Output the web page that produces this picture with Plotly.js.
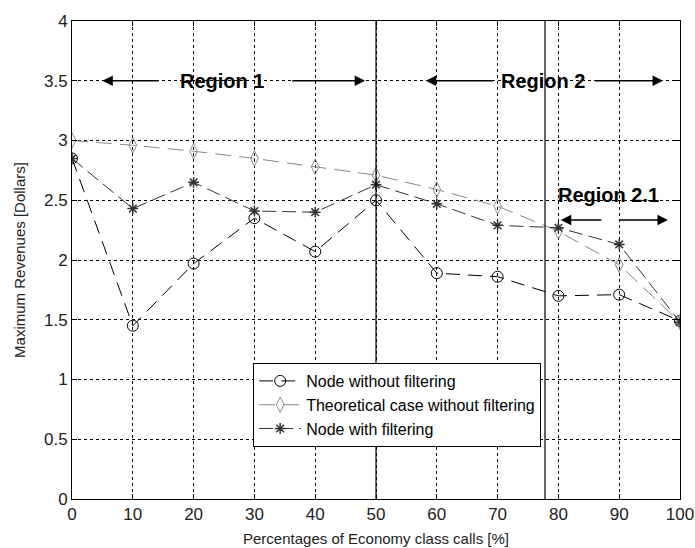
<!DOCTYPE html>
<html>
<head>
<meta charset="utf-8">
<script src="https://cdn.plot.ly/plotly-3.0.1.min.js"></script>
<style>html,body{margin:0;padding:0;background:#fff;}#chart{width:695px;height:548px;}</style>
</head>
<body>
<div id="chart"></div>
<script>
const xPercent = [0, 10, 20, 30, 40, 50, 60, 70, 80, 90, 100];
const nodeWithoutFiltering = [2.85, 1.45, 1.97, 2.35, 2.07, 2.50, 1.89, 1.86, 1.70, 1.71, 1.49];
const theoreticalWithoutFiltering = [3.00, 2.96, 2.91, 2.85, 2.78, 2.71, 2.59, 2.45, 2.24, 1.96, 1.48];
const nodeWithFiltering = [2.85, 2.43, 2.65, 2.41, 2.40, 2.63, 2.47, 2.29, 2.27, 2.13, 1.48];
const seriesNames = ["Node without filtering", "Theoretical case without filtering", "Node with filtering"];
const regionBounds = [50, 77.8];
const xTicks = [0, 10, 20, 30, 40, 50, 60, 70, 80, 90, 100];
const yTicks = [0, 0.5, 1, 1.5, 2, 2.5, 3, 3.5, 4];

const traces = [
  {x: xPercent, y: nodeWithoutFiltering, name: seriesNames[0], mode: 'lines+markers',
   line: {color: '#000000', width: 1, dash: '14px,8px'},
   marker: {symbol: 'circle-open', size: 11, color: '#000000', line: {width: 1}}},
  {x: xPercent, y: theoreticalWithoutFiltering, name: seriesNames[1], mode: 'lines+markers',
   line: {color: '#8a8a8a', width: 1, dash: '16px,8px'},
   marker: {symbol: 'diamond-tall-open', size: 11, color: '#8a8a8a', line: {width: 1}}},
  {x: xPercent, y: nodeWithFiltering, name: seriesNames[2], mode: 'lines+markers',
   line: {color: '#333333', width: 1, dash: '14px,6px'},
   marker: {symbol: 'asterisk-open', size: 9, color: '#333333', line: {width: 1.5}}}
];

const arrowFont = {family: 'Arial, Liberation Sans, sans-serif', size: 20, color: '#000'};
function arrow(xHead, xTail, y) {
  return {x: xHead, y: y, ax: xTail, ay: y, xref: 'x', yref: 'y', axref: 'x', ayref: 'y',
    text: '', showarrow: true, arrowhead: 2, arrowsize: 1.3, arrowwidth: 1.6, arrowcolor: '#000'};
}
const annotations = [
  {x: 24.7, y: 3.5, xref: 'x', yref: 'y', text: '<b>Region 1</b>', showarrow: false, font: arrowFont},
  arrow(5, 14.5, 3.5), arrow(48.2, 36, 3.5),
  {x: 77.5, y: 3.5, xref: 'x', yref: 'y', text: '<b>Region 2</b>', showarrow: false, font: arrowFont},
  arrow(58.2, 69.5, 3.5), arrow(97.2, 85.8, 3.5),
  {x: 88.2, y: 2.54, xref: 'x', yref: 'y', text: '<b>Region 2.1</b>', showarrow: false, font: arrowFont},
  arrow(80.4, 87.3, 2.335), arrow(98, 89.8, 2.335)
];

const shapes = regionBounds.map(v => ({type: 'line', xref: 'x', yref: 'paper', x0: v, x1: v, y0: 0, y1: 1,
  line: {color: '#000', width: 1.2}}));

const tickFont = {family: 'Liberation Sans Narrow, Arial Narrow, Arial, sans-serif', size: 17, color: '#222'};
const axisCommon = {
  showline: true, linecolor: '#000', linewidth: 1, mirror: 'ticks',
  ticks: 'inside', ticklen: 5, tickcolor: '#000',
  showgrid: true, gridcolor: '#000', gridwidth: 1, griddash: '3px,3px',
  zeroline: false,
  tickfont: tickFont
};

const layout = {
  width: 695, height: 548,
  margin: {l: 72, r: 15, t: 21, b: 49},
  paper_bgcolor: '#fff', plot_bgcolor: '#fff',
  showlegend: true,
  xaxis: Object.assign({}, axisCommon, {range: [0, 100], tickvals: xTicks, ticktext: xTicks.map(String),
    title: {text: 'Percentages of Economy class calls [%]', standoff: 10,
      font: {family: 'Arial, Liberation Sans, sans-serif', size: 15, color: '#222'}}}),
  yaxis: Object.assign({}, axisCommon, {range: [0, 4], tickvals: yTicks, ticktext: yTicks.map(String),
    title: {text: 'Maximum Revenues [Dollars]', standoff: 14,
      font: {family: 'Arial, Liberation Sans, sans-serif', size: 15, color: '#222'}}}),
  legend: {x: 0.298, y: 0.2845, xanchor: 'left', yanchor: 'top', bgcolor: '#fff', bordercolor: '#000', borderwidth: 1,
    itemwidth: 42,
    font: {family: 'Arial, Liberation Sans, sans-serif', size: 16, color: '#000'}, tracegroupgap: 0},
  annotations: annotations,
  shapes: shapes
};

Plotly.newPlot('chart', traces, layout, {displayModeBar: false, staticPlot: true});
</script>
</body>
</html>
